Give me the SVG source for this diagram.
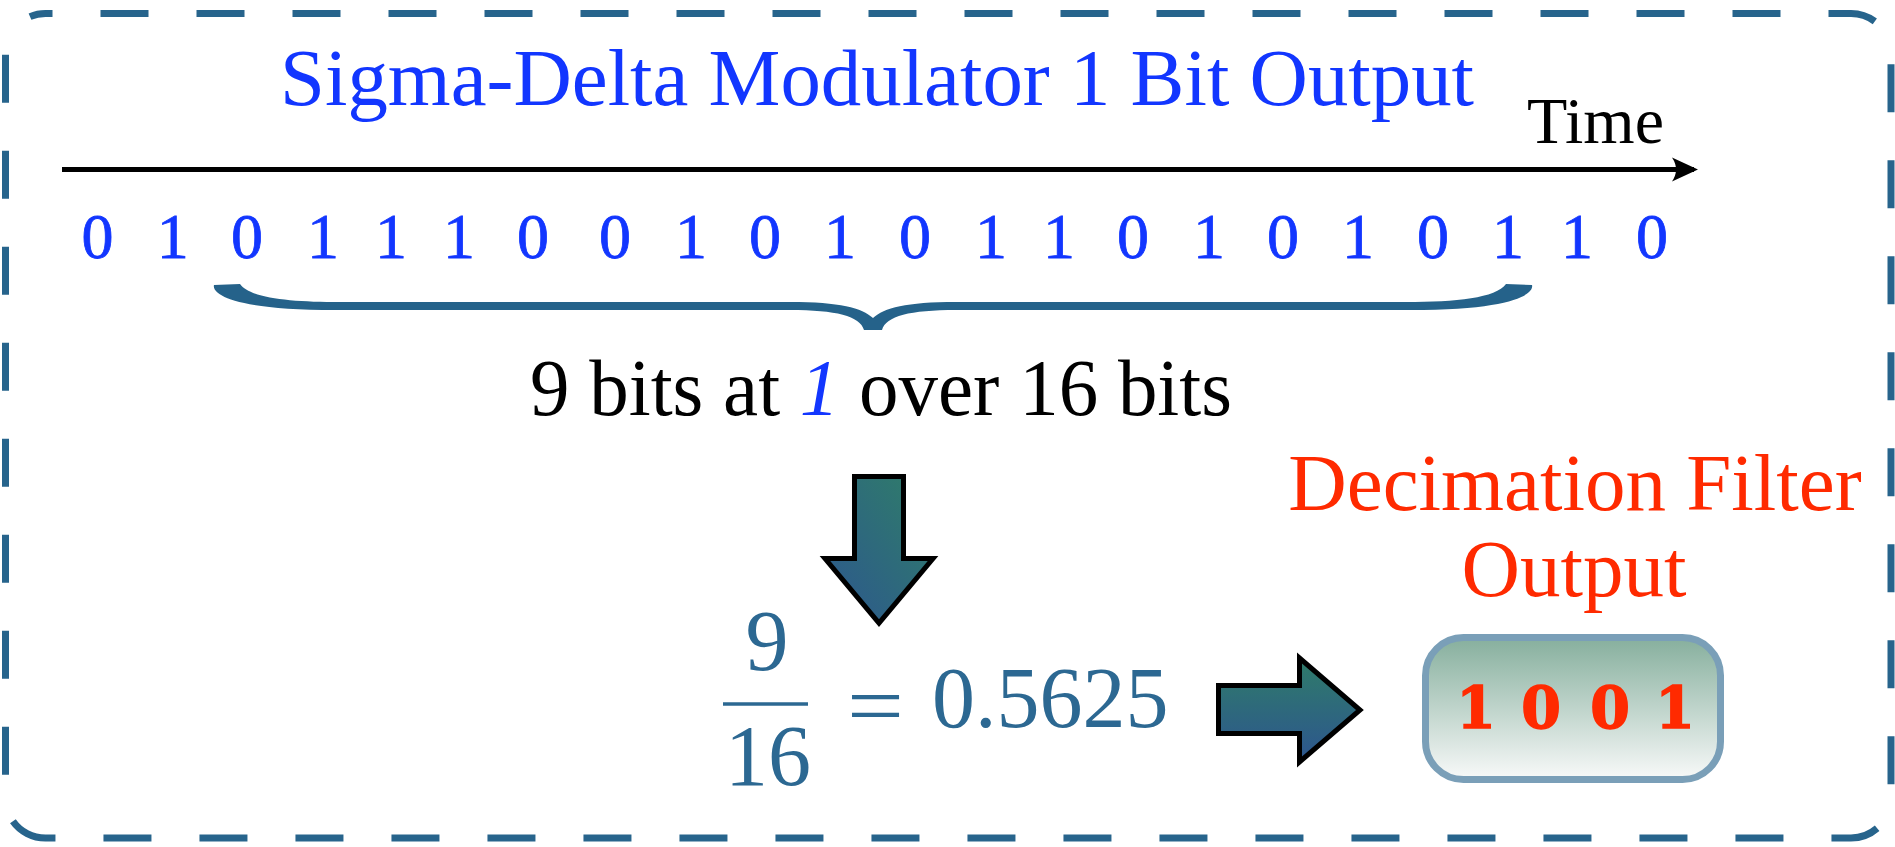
<svg xmlns="http://www.w3.org/2000/svg" width="1895" height="847" viewBox="0 0 1895 847">
  <defs>
    <linearGradient id="gDown" x1="0" y1="1" x2="1" y2="0">
      <stop offset="0" stop-color="#2D568F"/>
      <stop offset="1" stop-color="#2F7E68"/>
    </linearGradient>
    <linearGradient id="gRight" x1="0" y1="0" x2="0" y2="1">
      <stop offset="0" stop-color="#2F7C69"/>
      <stop offset="1" stop-color="#2D558F"/>
    </linearGradient>
    <linearGradient id="gBox" x1="0" y1="0" x2="0" y2="1">
      <stop offset="0" stop-color="#86AF9D"/>
      <stop offset="1" stop-color="#F8F9F9"/>
    </linearGradient>
    <marker id="timeHead" viewBox="0 0 26 26" refX="22" refY="13" markerWidth="26" markerHeight="26" markerUnits="userSpaceOnUse" orient="auto">
      <path d="M26,13 L0,1 Q8,13 0,25 Z" fill="#000"/>
    </marker>
  </defs>
  <style>
    .serif { font-family: "Liberation Serif", "Times New Roman", serif; }
    .blue { fill: #1236FF; }
    .red { fill: #FF2A00; }
    .math { fill: #2C6892; font-family: "Liberation Serif", "Times New Roman", serif; font-size: 86px; }
    .arrowShape { stroke: #000; stroke-width: 5; stroke-linejoin: miter; }
  </style>

  <rect id="frame" x="5.5" y="13.5" width="1885.5" height="824.5" rx="40" ry="40" fill="none" stroke="#27648C" stroke-width="7" stroke-dasharray="48 48" stroke-dashoffset="41"/>

  <g id="title">
    <text class="serif blue" x="877" y="105" font-size="80" text-anchor="middle" textLength="1194" lengthAdjust="spacingAndGlyphs">Sigma-Delta Modulator 1 Bit Output</text>
  </g>

  <g id="time-label">
    <text class="serif" x="1527" y="143" font-size="66" fill="#000">Time</text>
  </g>

  <g id="bits">
    <text class="serif blue" y="258" font-size="64" stroke="#1236FF" stroke-width="0.8" text-anchor="middle" x="97.6 172.7 247 323 391 459 533 615 691 765 840 915 991 1059 1133 1209 1283 1358 1433 1508 1577 1652">0101110010101101010110</text>
  </g>

  <g id="brace">
    <path fill="#25628A" d="M214,285 L240,284 C250,298 290,302 340,302 L790,302 C840,302 862,308 873,318 C884,308 906,302 956,302 L1406,302 C1456,302 1496,298 1506,284 L1532,285 C1534,292 1520,310 1410,310 L956,310 C910,310 886,316 882,330 L864,330 C860,316 836,310 790,310 L336,310 C226,310 212,292 214,285 Z"/>
  </g>

  <g id="count-label">
    <text class="serif" x="530" y="415" font-size="80" fill="#000" textLength="702" lengthAdjust="spacingAndGlyphs">9 bits at <tspan class="blue" font-style="italic">1</tspan> over 16 bits</text>
  </g>

  <g id="fraction">
    <text class="math" x="767" y="670" text-anchor="middle">9</text>
    <line x1="723" y1="704" x2="808" y2="704" stroke="#2C6892" stroke-width="3.5"/>
    <text class="math" x="768" y="785" text-anchor="middle">16</text>
    <text class="math" x="847" y="735" font-size="100" textLength="57" lengthAdjust="spacingAndGlyphs">=</text>
    <text class="math" x="932" y="727">0.5625</text>
  </g>

  <g id="decimation-label">
    <text class="serif red" x="1575" y="510" font-size="81" text-anchor="middle">Decimation Filter</text>
    <text class="serif red" x="1574" y="596" font-size="81" text-anchor="middle">Output</text>
  </g>

  <g id="output-box">
    <rect x="1425.5" y="637.5" width="295" height="142" rx="38" ry="38" fill="url(#gBox)" stroke="#7A9FB8" stroke-width="7"/>
    <text font-family="'DejaVu Serif', 'Liberation Serif', serif" font-weight="bold" font-size="57" class="red" stroke="#FF2A00" stroke-width="1.5" y="728" text-anchor="middle" x="1476 1541 1610 1675">1001</text>
  </g>

  <g id="connectors">
    <line id="time-axis" x1="62" y1="169.5" x2="1694" y2="169.5" stroke="#000" stroke-width="5" marker-end="url(#timeHead)"/>
    <polygon id="down-arrow" class="arrowShape" fill="url(#gDown)" points="854.5,476.5 903.5,476.5 903.5,558.5 933,558.5 879,623 825,558.5 854.5,558.5"/>
    <polygon id="right-arrow" class="arrowShape" fill="url(#gRight)" points="1218.5,685.5 1299.5,685.5 1299.5,658 1360,710 1299.5,762 1299.5,733.5 1218.5,733.5"/>
  </g>
</svg>
